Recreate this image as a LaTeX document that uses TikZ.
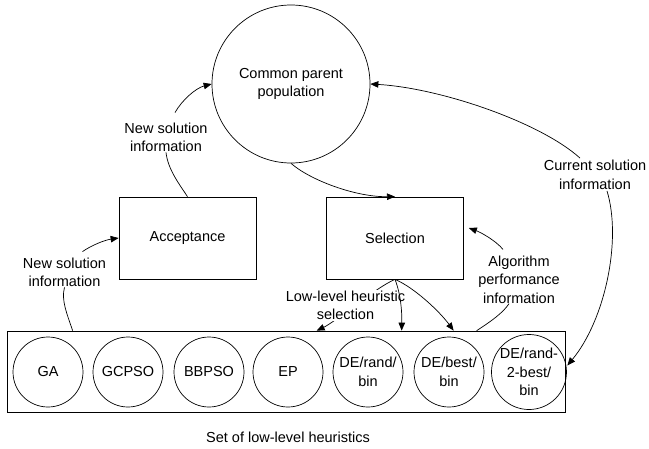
\documentclass[tikz,border=0pt]{standalone}
\usepackage{fontspec}
\setmainfont{Liberation Sans}
\usetikzlibrary{arrows.meta,calc}
\begin{document}
\begin{tikzpicture}[x=1pt,y=-1pt,
  line width=0.7pt,
  txt/.style={font=\fontsize{14.5}{18.5}\selectfont,align=center,inner sep=0pt},
  box/.style={draw,rectangle,minimum width=137pt,minimum height=82pt,txt},
  pcirc/.style={draw,circle,minimum size=70pt,inner sep=0pt,txt},
  arr/.style={-{Triangle[length=8pt,width=6.5pt]}}]
\useasboundingbox (0,0) rectangle (649,448);
% main nodes
\node[draw,circle,minimum size=158pt,inner sep=0pt,txt] (pop) at (291,84) {Common parent\\population};
\node[box] (acc) at (187.5,238) {Acceptance};
\node[box] (sel) at (395,238) {Selection};
\node[draw,rectangle,minimum width=558pt,minimum height=81pt,inner sep=0pt] (set) at (286,371.5) {};
\node[pcirc] (c1) at (48,372) {GA};
\node[pcirc] (c2) at (128,372) {GCPSO};
\node[pcirc] (c3) at (209,372) {BBPSO};
\node[pcirc] (c4) at (288,372) {EP};
\node[pcirc] (c5) at (368,372) {DE/rand/\\bin};
\node[pcirc] (c6) at (449,372) {DE/best/\\bin};
\node[pcirc] (c7) at (529,372) {DE/rand-\\2-best/\\bin};
\node[txt] (cap) at (288,437) {Set of low-level heuristics};
% labels
\node[txt] (l1) at (166,137.5) {New solution\\information};
\node[txt] (l2) at (64.5,272.5) {New solution\\information};
\node[txt] (l3) at (595,175) {Current solution\\information};
\node[txt] (l4) at (519,279.5) {Algorithm\\performance\\information};
% connectors
\draw (acc.north) .. controls (180,185) and (168,170) .. (l1.south);
\draw[arr] ($(l1.north)+(9,-10)$) .. controls (182,100) and (196,88) .. (pop.west);
\draw ($(set.north west)+(66,0)$) .. controls (67,314) and (61,300) .. (l2.south);
\draw[arr] ($(l2.north)+(18,-6)$) .. controls (92,245) and (105,240) .. (acc.west);
\draw[arr] (pop.south) .. controls (310,180) and (355,197) .. (sel.north);
\draw[arr] (sel.south) .. controls (375,288) and (335,322) .. ($(set.north west)+(310,0)$);
\node[txt,fill=white,inner sep=1pt] (l5) at (345.5,305.5) {Low-level heuristic\\selection};
\draw[arr] (sel.south) .. controls (401,295) and (402,312) .. ($(set.north west)+(395,0)$);
\draw[arr] (sel.south) .. controls (415,288) and (440,312) .. ($(set.north west)+(447,0)$);
\draw ($(set.north west)+(470,0)$) .. controls (490,322) and (503,313) .. ($(l4.south)+(-10,0)$);
\draw[arr] ($(l4.north)+(-16,-6)$) .. controls (495,240) and (480,232) .. ($(sel.east)+(5,-10)$);
\draw[arr] ($(l3.north)+(-15,-2)$) .. controls (540,122) and (440,88) .. (pop.east);
\draw[arr] ($(l3.south)+(12,1)$) .. controls (622,240) and (605,320) .. ($(set.east)+(2,-6)$);
\end{tikzpicture}
\end{document}
